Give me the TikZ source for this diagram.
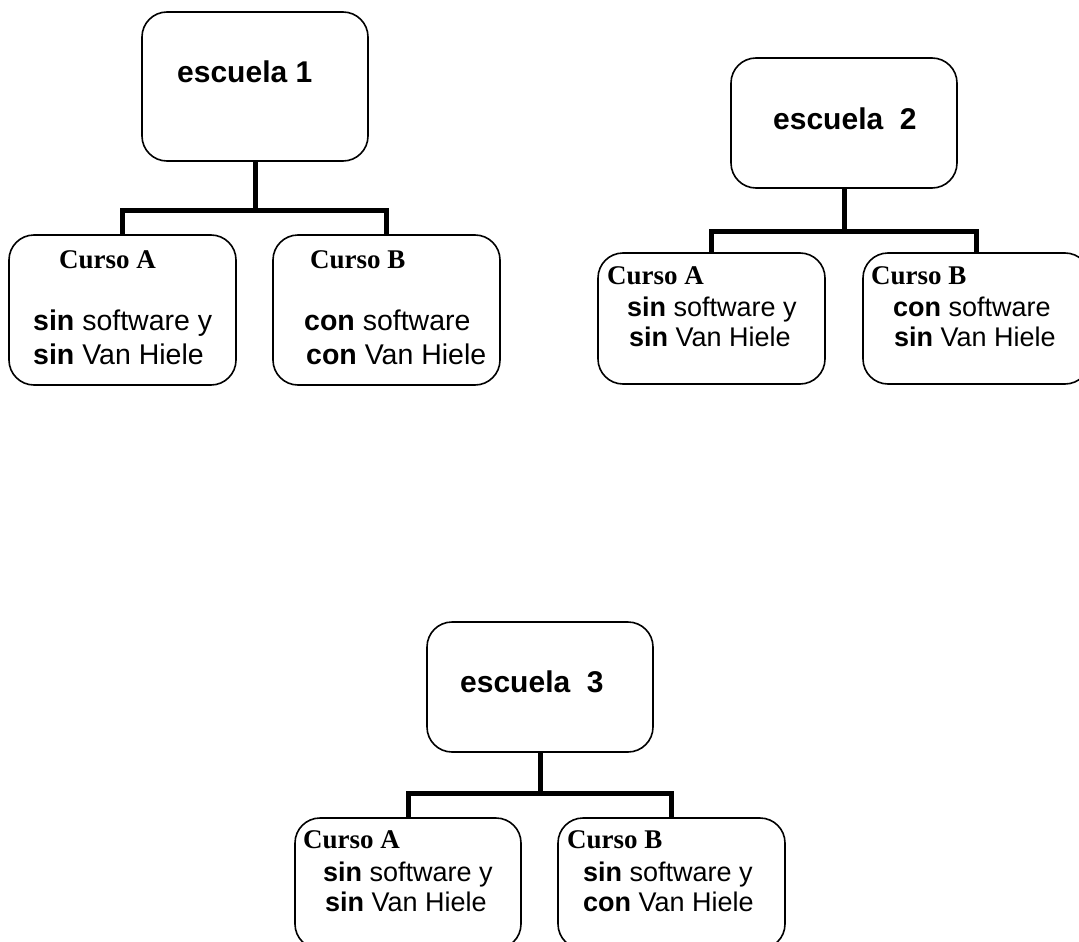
\documentclass[tikz,border=0pt]{standalone}
\usepackage{fontspec}
\setmainfont{Liberation Sans}
\newfontfamily\tnr{Liberation Serif}
\begin{document}
\begin{tikzpicture}[x=1pt,y=1pt,
  box/.style={draw, line width=1.6pt, rounded corners=25pt, inner sep=0pt},
  conn/.style={line width=5pt, line join=miter},
  txt/.style={inner sep=0pt, anchor=west, text height=0.72em, text depth=0pt},
  head/.style={txt, font=\fontsize{30}{32}\selectfont\bfseries},
  curso/.style={txt, font=\fontsize{27}{29}\tnr\bfseries},
  body/.style={txt, font=\fontsize{27}{30}\selectfont},
  bodyl/.style={txt, font=\fontsize{28.5}{30}\selectfont}]
\useasboundingbox (0,0) rectangle (1079,-942);
\clip (0,0) rectangle (1079,-942);
% boxes
\node[box, minimum width=226pt, minimum height=149pt] (e1) at (255,-86.5) {};
\node[box, minimum width=227pt, minimum height=150pt] (a1) at (122.5,-310) {};
\node[box, minimum width=227pt, minimum height=150pt] (b1) at (386.5,-310) {};
\node[box, minimum width=226pt, minimum height=130pt] (e2) at (844,-123) {};
\node[box, minimum width=227pt, minimum height=131pt] (a2) at (711.5,-318.5) {};
\node[box, minimum width=227pt, minimum height=131pt] (b2) at (976.5,-318.5) {};
\node[box, minimum width=226pt, minimum height=130pt] (e3) at (540,-687) {};
\node[box, minimum width=226pt, minimum height=131pt] (a3) at (408,-883.5) {};
\node[box, minimum width=227pt, minimum height=131pt] (b3) at (671.5,-883.5) {};
% connectors
\coordinate (j1) at (255,-210);
\coordinate (j2) at (844,-231);
\coordinate (j3) at (540,-793);
\draw[conn] (e1.south) -- (j1);
\draw[conn] (a1.north) |- (j1) -| (b1.north);
\draw[conn] (e2.south) -- (j2);
\draw[conn] (a2.north) |- (j2) -| (b2.north);
\draw[conn] (e3.south) -- (j3);
\draw[conn] (a3.north) |- (j3) -| (b3.north);
% texts school 1
\node[head] (t1) at (177,-79) {escuela 1};
\node[curso] (t1a) at (59,-265) {Curso A};
\node[bodyl] (t1a1) at (33,-327) {\textbf{sin} software y};
\node[bodyl] (t1a2) at (33,-361) {\textbf{sin} Van Hiele};
\node[curso] (t1b) at (310,-265) {Curso B};
\node[bodyl] (t1b1) at (304,-327) {\textbf{con} software};
\node[bodyl] (t1b2) at (306,-361) {\textbf{con} Van Hiele};
% texts school 2
\node[head] (t2) at (773,-126) {escuela\ \ 2};
\node[curso] (t2a) at (607,-281) {Curso A};
\node[body] (t2a1) at (627,-313) {\textbf{sin} software y};
\node[body] (t2a2) at (629,-343) {\textbf{sin} Van Hiele};
\node[curso] (t2b) at (871,-281) {Curso B};
\node[body] (t2b1) at (893,-313) {\textbf{con} software};
\node[body] (t2b2) at (894,-343) {\textbf{sin} Van Hiele};
% texts school 3
\node[head] (t3) at (460,-689) {escuela\ \ 3};
\node[curso] (t3a) at (303,-845) {Curso A};
\node[body] (t3a1) at (323,-878) {\textbf{sin} software y};
\node[body] (t3a2) at (325,-908) {\textbf{sin} Van Hiele};
\node[curso] (t3b) at (567,-845) {Curso B};
\node[body] (t3b1) at (583,-878) {\textbf{sin} software y};
\node[body] (t3b2) at (583,-908) {\textbf{con} Van Hiele};
\end{tikzpicture}
\end{document}
